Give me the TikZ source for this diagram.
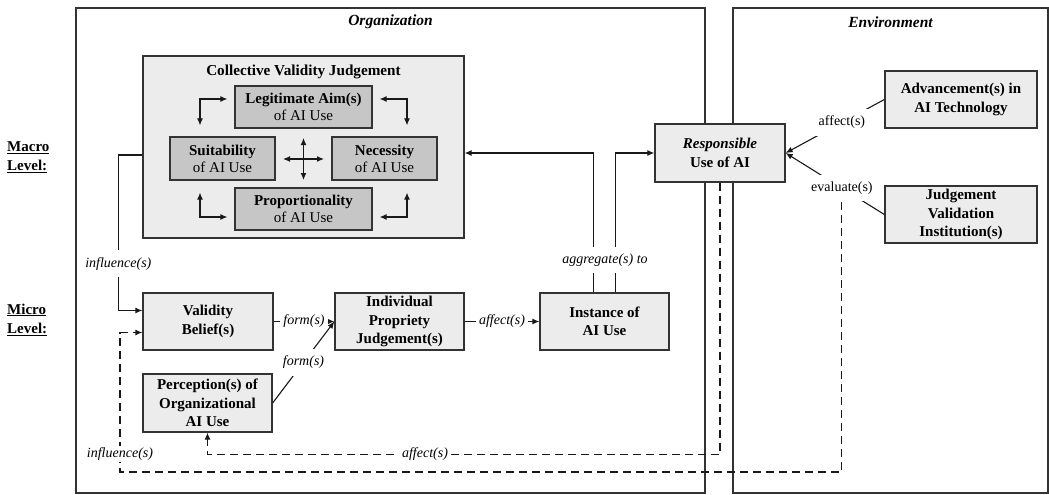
\documentclass[tikz,border=0pt]{standalone}
\usepackage{fontspec}
\setmainfont{Liberation Serif}
\usetikzlibrary{arrows.meta,calc}
\begin{document}
\begin{tikzpicture}[x=1pt,y=-1pt,
  every node/.style={font=\fontsize{14}{17}\selectfont},
  container/.style={draw=black!80, line width=1.3pt, inner sep=0pt},
  outerbox/.style={draw=black!80, line width=1.3pt, fill=gray!15, inner sep=0pt},
  inbox/.style={draw=black!80, line width=1.3pt, fill=gray!45, inner sep=0pt, align=center, font=\fontsize{15}{17}\selectfont},
  mbox/.style={draw=black!80, line width=1.3pt, fill=gray!15, inner sep=0pt, align=center, font=\bfseries\fontsize{15}{18.5}\selectfont},
  conn/.style={line width=1.1pt, draw=black!90},
  arr/.style={conn, -{Latex[length=7pt,width=6pt]}},
  dbl/.style={conn, {Latex[length=7pt,width=6pt]}-{Latex[length=7pt,width=6pt]}},
  darr/.style={arr, dash pattern=on 8pt off 5pt},
  lbl/.style={fill=white, inner xsep=3pt, inner ysep=7pt, font=\itshape\fontsize{14}{17}\selectfont},
  ulbl/.style={fill=white, inner xsep=3pt, inner ysep=7pt, font=\fontsize{14}{17}\selectfont},
  ttl/.style={font=\bfseries\itshape\fontsize{15.5}{18}\selectfont},
  lvl/.style={font=\bfseries\fontsize{15}{19}\selectfont, align=left, anchor=west, inner sep=0pt}
]
\useasboundingbox (0,0) rectangle (1049,495);

% containers
\node[container, minimum width=629pt, minimum height=485pt] (org) at (390.5,250.5) {};
\node[container, minimum width=315pt, minimum height=485pt] (env) at (890.5,250.5) {};
\node[ttl] (orgt) at (390.5,22) {Organization};
\node[ttl] (envt) at (890.5,22) {Environment};

% level labels
\node[lvl] (macro) at (7,157.5) {\underline{Macro}\\\underline{Level:}};
\node[lvl] (micro) at (7,319.5) {\underline{Micro}\\\underline{Level:}};

% collective validity judgement
\node[outerbox, minimum width=321pt, minimum height=182pt] (coll) at (303.5,147) {};
\node[font=\bfseries\fontsize{15.2}{17}\selectfont] (collt) at (303.5,72) {Collective Validity Judgement};
\node[inbox, minimum width=137pt, minimum height=42pt] (legit) at (303.5,107) {\textbf{Legitimate Aim(s)}\\of AI Use};
\node[inbox, minimum width=105pt, minimum height=43pt] (suit) at (222.5,158.5) {\textbf{Suitability}\\of AI Use};
\node[inbox, minimum width=105pt, minimum height=43pt] (nec) at (384.5,158.5) {\textbf{Necessity}\\of AI Use};
\node[inbox, minimum width=137pt, minimum height=42pt] (prop) at (303.5,209) {\textbf{Proportionality}\\of AI Use};

\coordinate (cx) at (303.5,159);
\draw[dbl] ([shift={(-20.5,0)}]cx) -- ([shift={(20.5,0)}]cx);
\draw[dbl] ([shift={(0,-21)}]cx) -- ([shift={(0,21)}]cx);

\draw[dbl] ([shift={(-7,-8)}]legit.west) -| ([shift={(-22.5,-11)}]suit.north);
\draw[dbl] ([shift={(7,-8)}]legit.east) -| ([shift={(22.5,-11)}]nec.north);
\draw[dbl] ([shift={(-22.5,12)}]suit.south) |- ([shift={(-7,8)}]prop.west);
\draw[dbl] ([shift={(22.5,12)}]nec.south) |- ([shift={(7,8)}]prop.east);

% micro level boxes
\node[mbox, minimum width=130pt, minimum height=57pt] (valid) at (208,321.5) {Validity\\Belief(s)};
\node[mbox, minimum width=129pt, minimum height=57pt] (indiv) at (399.5,321.5) {Individual\\Propriety\\Judgement(s)};
\node[mbox, minimum width=129pt, minimum height=57pt] (inst) at (604.5,321.5) {Instance of\\AI Use};
\node[mbox, minimum width=129pt, minimum height=58pt] (perc) at (207.5,403) {Perception(s) of\\Organizational\\AI Use};
\node[mbox, minimum width=130pt, minimum height=58pt] (resp) at (720,153) {\textit{Responsible}\\Use of AI};
\node[mbox, minimum width=152pt, minimum height=57pt] (adv) at (961,99.5) {Advancement(s) in\\AI Technology};
\node[mbox, minimum width=152pt, minimum height=57pt] (jvi) at (961,214.5) {Judgement\\Validation\\Institution(s)};

% connectors
\draw[arr] ([shift={(0,8)}]coll.west) -- ++(-24,0) |- ([shift={(0,-11)}]valid.west)
  node[lbl, pos=0.35] (linf1) {influence(s)};
\draw[arr] (valid.east) -- (indiv.west) node[lbl, pos=0.5] (lf1) {form(s)};
\draw[arr] (perc.east) -- (indiv.west) node[lbl, pos=0.5] (lf2) {form(s)};
\draw[arr] (indiv.east) -- (inst.west) node[lbl, pos=0.5] (laf1) {affect(s)};

\draw[arr] ([xshift=-11pt]inst.north) |- ([shift={(0,6)}]coll.east);
\draw[arr] ([xshift=11pt]inst.north) |- (resp.west);
\node[lbl] (agg) at (605,260) {aggregate(s) to};

\draw[arr] (adv.west) -- (resp.east) node[ulbl, pos=0.43] (laf2) {affect(s)};
\draw[arr] (jvi.west) -- (resp.east) node[ulbl, pos=0.43] (evlbl) {evaluate(s)};

\draw[darr] (evlbl.south) |- (120,472) |- ([shift={(0,11)}]valid.west);
\node[lbl, inner ysep=2pt] (linf2) at (120,454) {influence(s)};

\draw[darr] (resp.south) -- ++(0,272) -| (perc.south);
\node[lbl, inner ysep=2pt] (laff) at (425,454) {affect(s)};
\end{tikzpicture}
\end{document}
